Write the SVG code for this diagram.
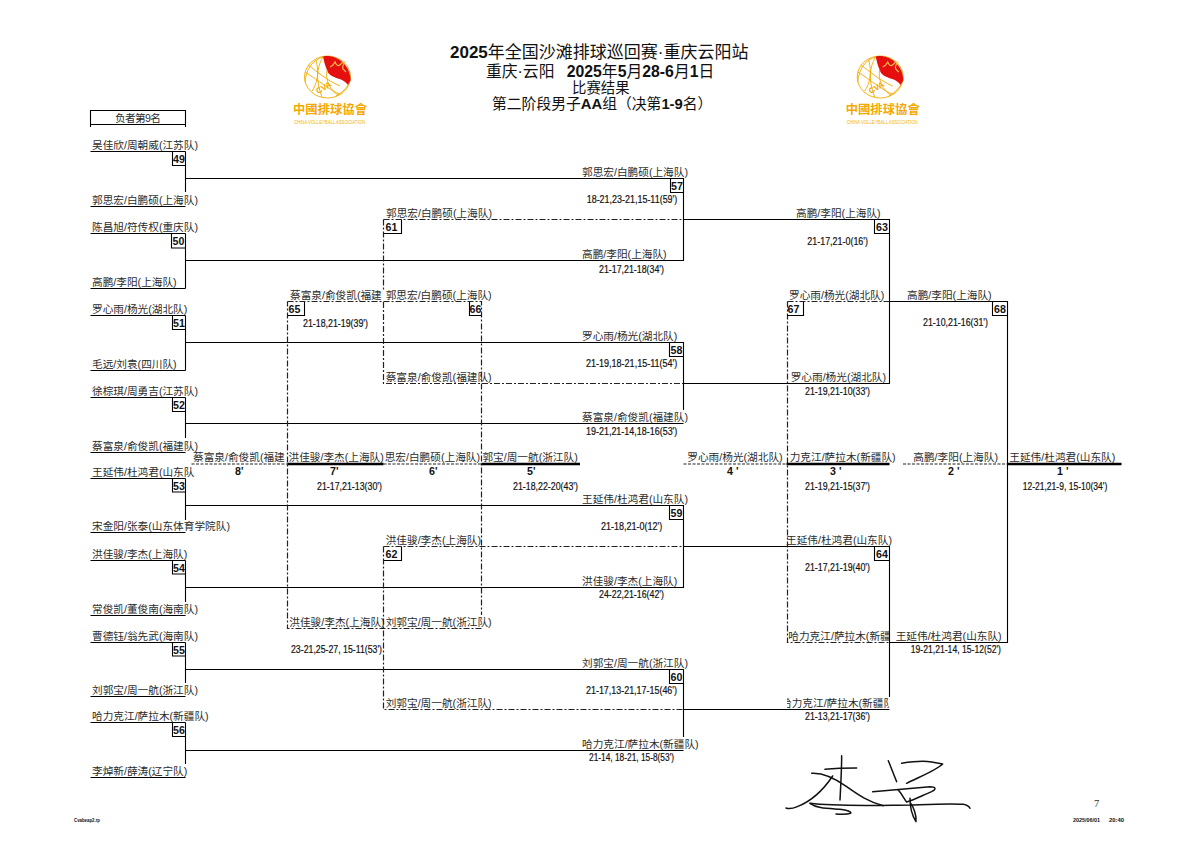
<svg xmlns="http://www.w3.org/2000/svg" xmlns:xlink="http://www.w3.org/1999/xlink" width="1200" height="843" viewBox="0 0 1200 843">
<style>
text{font-family:"Liberation Sans","Noto Sans CJK SC",sans-serif}
.l{font-size:10.67px;fill:#2b2b2b}
.s,.r,.n{font-size:10.67px;fill:#111;font-family:"Liberation Sans Narrow","Liberation Sans",sans-serif}
.s{stroke:#111;stroke-width:.2}
.n{font-weight:bold;text-anchor:middle}
.r{font-weight:bold}
.t{fill:#111;text-anchor:start}
.t tspan.b{font-weight:bold}
.sol{fill:none;stroke:#000;stroke-width:1.1}
.dd{fill:none;stroke:#222;stroke-width:1.2;stroke-dasharray:6 2 2 2}
.ds{fill:none;stroke:#222;stroke-width:1.2;stroke-dasharray:3 1.5}
.thk{fill:none;stroke:#000;stroke-width:2.4}
.box{fill:none;stroke:#000;stroke-width:1.1}
.g{fill:none;stroke:#f2a900;stroke-width:.9}
</style>
<defs>
<clipPath id="c64a"><rect x="787" y="625" width="102" height="20"/></clipPath>
<clipPath id="c64b"><rect x="787" y="692" width="102" height="20"/></clipPath>
<g id="logo">
<ellipse class="g" cx="327.500" cy="77" rx="23" ry="21"/>
<path d="M323 56.500C336 54 350 64 350.700 80L348 85C342 76 330 80 327 70C325 66 324 61 323 56.500Z" fill="#e60f0f"/>
<path d="M330 67q3-1 5-5q2 5 5 3q2-3 5-3q-3 4-2 7l3 3" fill="none" stroke="#f6c04a" stroke-width="1.2"/>
<path class="g" d="M323 57C312 60 306 70 305 82M323 57C316 68 316 82 322 97M327 70C325 80 330 90 338 95M305 72C318 80 332 92 340 94M308 65C318 72 326 80 340 86M316 60C320 75 316 85 312 91M348 85C345 90 340 94 336 96"/>
<text x="325" y="90" transform="rotate(-30 325 90)" font-size="8" fill="#f2a900" font-weight="bold" text-anchor="middle">CVA</text>
<text x="293" y="113.500" font-size="12.300" fill="#f5a800" font-weight="bold" textLength="74" style="font-family:'Noto Sans CJK TC',sans-serif">中國排球協會</text>
<text x="294" y="123.500" font-size="5.500" fill="#f5b400" textLength="71" lengthAdjust="spacingAndGlyphs">CHINA VOLLEYBALL ASSOCIATION</text>
</g>
</defs>
<rect width="1200" height="843" fill="#fff"/>

<g id="logo-left"><use xlink:href="#logo" href="#logo"/></g>
<g id="logo-right"><use xlink:href="#logo" href="#logo" x="552.700"/></g>

<g id="title">
<text class="t" x="450" y="58.300" font-size="17"><tspan class="b">2025</tspan>年全国沙滩排球巡回赛·重庆云阳站</text>
<text class="t" x="486" y="76.500" font-size="15.800">重庆·云阳<tspan class="b" x="566.700">2025</tspan>年<tspan class="b">5</tspan>月<tspan class="b">28-6</tspan>月<tspan class="b">1</tspan>日</text>
<text class="t" x="572" y="92.500" font-size="14.400">比赛结果</text>
<text class="t" x="492" y="108.500" font-size="14.800">第二阶段男子<tspan class="b">AA</tspan>组（决第<tspan class="b">1-9</tspan>名）</text>
</g>

<g id="loser-header">
<path class="sol" d="M90.500 127V110.500H185.500V127M90.500 124.500H185.500"/>
<text class="l" x="115" y="121.500" textLength="46">负者第9名</text>
</g>

<g id="connectors">
<path class="sol" d="M90.500 151.500H185.500M90.500 206.500H185.500M90.500 233.500H185.500M90.500 288.500H185.500M90.500 315.500H185.500M90.500 370.500H185.500M90.500 397.500H185.500M90.500 452.500H185.500M90.500 478.500H185.500M90.500 532.500H185.500M90.500 560.500H185.500M90.500 615.500H185.500M90.500 642.500H185.500M90.500 696.500H185.500M90.500 722.500H185.500M90.500 777.500H185.500"/>
<path class="sol" d="M185.500 151.500V192M185.500 233.500V288.500M185.500 315.500V370.500M185.500 397.500V438M185.500 478.500V520M185.500 560.500V602M185.500 642.500V683M185.500 722.500V764"/>
<path class="sol" d="M185.500 178.500H683.500V260.500H185.500M185.500 342.500H683.500V410M185.500 423.500H683.500M185.500 505.500H683.500V587.500H185.500M185.500 669.500H683.500V737M185.500 750.500H683.500"/>
<path class="sol" d="M683.500 219.500H889.500V383.500H683.500M683.500 546.500H889.500V697M683.500 709.500H889.500M889.500 301.500H1007.500V642.500H889.500"/>
<path class="dd" d="M383.500 219.500H683.500M383.500 219.500V290M383.500 302V383.500H683.500M383.500 546.500H683.500M383.500 546.500V709.500H683.500"/>
<path class="dd" d="M287.500 301.500H481.500V615M481.500 628.500H287.500V301.500M787.500 301.500H889.500M787.500 301.500V642.500H889.500"/>
<path class="ds" d="M191.500 464H288M383.500 464H481.500M683.500 464H787.500M903 464H1007.500"/>
<path class="thk" d="M287.500 464H383.500M481.500 464H580M786.500 464H889.500M1007.500 464H1121.500"/>
</g>

<g id="match-49"><path class="box" d="M172.500 151.500V165.500H185.500"/><text class="n" x="179" y="163">49</text>
<text class="l" x="92" y="149">吴佳欣/周朝威(江苏队)</text><text class="l" x="92" y="204">郭思宏/白鹏硕(上海队)</text></g>
<g id="match-50"><path class="box" d="M171.500 233.500V248H185.500"/><text class="n" x="178.500" y="245">50</text>
<text class="l" x="92" y="231">陈昌旭/符传权(重庆队)</text><text class="l" x="92" y="286">高鹏/李阳(上海队)</text></g>
<g id="match-51"><path class="box" d="M172.500 315.500V329.500H185.500"/><text class="n" x="179" y="327">51</text>
<text class="l" x="92" y="313">罗心雨/杨光(湖北队)</text><text class="l" x="92" y="368">毛远/刘袁(四川队)</text></g>
<g id="match-52"><path class="box" d="M172.500 397.500V411.500H185.500"/><text class="n" x="179" y="409">52</text>
<text class="l" x="92" y="395">徐棕琪/周勇吉(江苏队)</text><text class="l" x="92" y="450">蔡富泉/俞俊凯(福建队)</text></g>
<g id="match-53"><path class="box" d="M172.500 478.500V492H185.500"/><text class="n" x="179" y="490">53</text>
<text class="l" x="92" y="476">王延伟/杜鸿君(山东队</text><text class="l" x="92" y="530">宋金阳/张泰(山东体育学院队)</text></g>
<g id="match-54"><path class="box" d="M172.500 560.500V574H185.500"/><text class="n" x="179" y="572">54</text>
<text class="l" x="92" y="558">洪佳骏/李杰(上海队)</text><text class="l" x="92" y="613">常俊凯/董俊南(海南队)</text></g>
<g id="match-55"><path class="box" d="M172.500 642.500V656H185.500"/><text class="n" x="179" y="654">55</text>
<text class="l" x="92" y="640">曹德钰/翁先武(海南队)</text><text class="l" x="92" y="694">刘郭宝/周一航(浙江队)</text></g>
<g id="match-56"><path class="box" d="M172.500 722.500V736.500H185.500"/><text class="n" x="179" y="734">56</text>
<text class="l" x="92" y="720">哈力克江/萨拉木(新疆队)</text><text class="l" x="92" y="775">李焯新/薛涛(辽宁队)</text></g>

<g id="match-57"><path class="box" d="M670.500 178.500V192.500H683.500"/><text class="n" x="677" y="190">57</text>
<text class="l" x="582" y="176">郭思宏/白鹏硕(上海队)</text><text class="s" x="586.700" y="203" textLength="90.600" lengthAdjust="spacingAndGlyphs">18-21,23-21,15-11(59')</text>
<text class="l" x="582" y="258">高鹏/李阳(上海队)</text><text class="s" x="599" y="272.500" textLength="65" lengthAdjust="spacingAndGlyphs">21-17,21-18(34')</text></g>
<g id="match-58"><path class="box" d="M669.500 342.500V356.500H683.500"/><text class="n" x="676.500" y="354">58</text>
<text class="l" x="582" y="340">罗心雨/杨光(湖北队)</text><text class="s" x="586" y="367" textLength="91.300" lengthAdjust="spacingAndGlyphs">21-19,18-21,15-11(54')</text>
<text class="l" x="582" y="421">蔡富泉/俞俊凯(福建队)</text><text class="s" x="586" y="434.500" textLength="91.300" lengthAdjust="spacingAndGlyphs">19-21,21-14,18-16(53')</text></g>
<g id="match-59"><path class="box" d="M669.500 505.500V519.500H683.500"/><text class="n" x="676.500" y="517">59</text>
<text class="l" x="582" y="503">王延伟/杜鸿君(山东队)</text><text class="s" x="601" y="530" textLength="61.300" lengthAdjust="spacingAndGlyphs">21-18,21-0(12')</text>
<text class="l" x="582" y="585">洪佳骏/李杰(上海队)</text><text class="s" x="599" y="598" textLength="65" lengthAdjust="spacingAndGlyphs">24-22,21-16(42')</text></g>
<g id="match-60"><path class="box" d="M669.500 669.500V683.500H683.500"/><text class="n" x="676.500" y="681">60</text>
<text class="l" x="582" y="667">刘郭宝/周一航(浙江队)</text><text class="s" x="586" y="694" textLength="91" lengthAdjust="spacingAndGlyphs">21-17,13-21,17-15(46')</text>
<text class="l" x="582" y="748">哈力克江/萨拉木(新疆队)</text><text class="s" x="589" y="761" textLength="85" lengthAdjust="spacingAndGlyphs">21-14, 18-21, 15-8(53')</text></g>

<g id="match-61"><path class="box" d="M401.500 219.500V233.500H384"/><text class="n" x="391.500" y="231">61</text>
<text class="l" x="386" y="217">郭思宏/白鹏硕(上海队)</text></g>
<g id="match-62"><path class="box" d="M401.500 546.500V560.500H384"/><text class="n" x="391.500" y="558">62</text>
<text class="l" x="385.700" y="544">洪佳骏/李杰(上海队)</text><text class="l" x="385.700" y="707">刘郭宝/周一航(浙江队)</text></g>
<g id="match-63"><path class="box" d="M874.500 219.500V233.500H889.500"/><text class="n" x="882" y="231">63</text>
<text class="l" x="796" y="217">高鹏/李阳(上海队)</text><text class="s" x="807.300" y="244.500" textLength="60.700" lengthAdjust="spacingAndGlyphs">21-17,21-0(16')</text></g>
<g id="match-64"><path class="box" d="M874.500 546.500V560.500H889.500"/><text class="n" x="882" y="558">64</text>
<text class="l" x="786" y="544">王延伟/杜鸿君(山东队)</text><text class="s" x="805" y="571" textLength="65" lengthAdjust="spacingAndGlyphs">21-17,21-19(40')</text>
<text class="s" x="805" y="720" textLength="65" lengthAdjust="spacingAndGlyphs">21-13,21-17(36')</text>
<text class="l" x="781" y="707" clip-path="url(#c64b)">哈力克江/萨拉木(新疆队)</text>
<text class="l" x="788.300" y="640" clip-path="url(#c64a)">哈力克江/萨拉木(新疆队)</text></g>
<g id="match-65"><path class="box" d="M304.500 302V315.500H288"/><text class="n" x="294.500" y="313">65</text>
<text class="l" x="290" y="299">蔡富泉/俞俊凯(福建</text><text class="s" x="303" y="326.500" textLength="65" lengthAdjust="spacingAndGlyphs">21-18,21-19(39')</text>
<text class="l" x="289.300" y="626">洪佳骏/李杰(上海队)</text><text class="s" x="291" y="653" textLength="91" lengthAdjust="spacingAndGlyphs">23-21,25-27, 15-11(53')</text></g>
<g id="match-66"><path class="box" d="M469.500 302V315.500H481.500"/><text class="n" x="475.500" y="313">66</text>
<text class="l" x="385.700" y="299">郭思宏/白鹏硕(上海队)</text>
<text class="l" x="385.700" y="381">蔡富泉/俞俊凯(福建队)</text>
<text class="l" x="385.700" y="626">刘郭宝/周一航(浙江队)</text></g>
<g id="match-67"><path class="box" d="M803.500 302V315.500H787.500"/><text class="n" x="793.500" y="313">67</text>
<text class="l" x="789" y="299">罗心雨/杨光(湖北队)</text><text class="l" x="790.700" y="381">罗心雨/杨光(湖北队)</text><text class="s" x="805" y="394.500" textLength="65" lengthAdjust="spacingAndGlyphs">21-19,21-10(33')</text></g>
<g id="match-68"><path class="box" d="M992.500 301.500V315.500H1007.500"/><text class="n" x="1000" y="313">68</text>
<text class="l" x="907" y="299">高鹏/李阳(上海队)</text><text class="s" x="923" y="326" textLength="65" lengthAdjust="spacingAndGlyphs">21-10,21-16(31')</text>
<text class="l" x="895.700" y="640">王延伟/杜鸿君(山东队)</text><text class="s" x="910.700" y="653" textLength="90.300" lengthAdjust="spacingAndGlyphs">19-21,21-14, 15-12(52')</text></g>

<g id="rank-8"><text class="l" x="193" y="461">蔡富泉/俞俊凯(福建</text><text class="r" x="235" y="475">8'</text></g>
<g id="rank-7"><text class="l" x="288.500" y="461">洪佳骏/李杰(上海队)</text><text class="r" x="330" y="475">7'</text><text class="s" x="317" y="489.500" textLength="65" lengthAdjust="spacingAndGlyphs">21-17,21-13(30')</text></g>
<g id="rank-6"><text class="l" x="384.700" y="461">思宏/白鹏硕(上海队)</text><text class="r" x="429" y="475">6'</text></g>
<g id="rank-5"><text class="l" x="482.400" y="461">郭宝/周一航(浙江队)</text><text class="r" x="527" y="475">5'</text><text class="s" x="513" y="489.500" textLength="65" lengthAdjust="spacingAndGlyphs">21-18,22-20(43')</text></g>
<g id="rank-4"><text class="l" x="687.300" y="461">罗心雨/杨光(湖北队)</text><text class="r" x="727" y="475">4 '</text></g>
<g id="rank-3"><text class="l" x="789.700" y="461">力克江/萨拉木(新疆队)</text><text class="r" x="830" y="475">3 '</text><text class="s" x="805" y="489.500" textLength="65" lengthAdjust="spacingAndGlyphs">21-19,21-15(37')</text></g>
<g id="rank-2"><text class="l" x="913.300" y="461">高鹏/李阳(上海队)</text><text class="r" x="948" y="475">2 '</text></g>
<g id="rank-1"><text class="l" x="1009.300" y="461">王延伟/杜鸿君(山东队)</text><text class="r" x="1057" y="475">1 '</text><text class="s" x="1022.700" y="489.500" textLength="84.600" lengthAdjust="spacingAndGlyphs">12-21,21-9, 15-10(34')</text></g>

<g id="signature" transform="translate(760 740) scale(.3333)" fill="none" stroke="#111" stroke-width="4.500" stroke-linecap="round" stroke-linejoin="round">
<path d="M245 47C245 90 242 140 240 180M195 88C225 85 260 84 290 84"/>
<path d="M218 108C190 150 150 185 112 200C100 205 88 208 78 204"/>
<path d="M155 100C190 98 225 115 260 140C295 165 325 185 370 197"/>
<path d="M150 190C230 200 350 196 450 195C510 193 570 190 610 193C620 195 628 200 630 205"/>
<path d="M150 190C170 205 200 205 240 208C262 210 275 215 272 220C255 225 240 222 228 222"/>
<path d="M385 62L410 125"/>
<path d="M425 70C450 66 490 62 515 66L548 72C530 90 480 110 440 130"/>
<path d="M338 155C390 150 450 145 510 140C528 140 530 148 515 155C490 165 465 178 440 186C432 178 428 165 415 150"/>
<path d="M450 175C450 200 455 225 468 245C470 225 460 200 452 190"/>
</g>

<g id="footer">
<text x="1096.700" y="807" font-size="10.500" fill="#333" text-anchor="middle" style="font-family:'Liberation Serif',serif">7</text>
<text x="74" y="821.500" font-size="5" font-weight="bold" fill="#111" textLength="26" lengthAdjust="spacingAndGlyphs">Cvabeap2.rp</text>
<text x="1073" y="821.500" font-size="5" font-weight="bold" fill="#111" textLength="27" lengthAdjust="spacingAndGlyphs">2025/06/01</text>
<text x="1109" y="821.500" font-size="5" font-weight="bold" fill="#111" textLength="15" lengthAdjust="spacingAndGlyphs">20:40</text>
</g>
</svg>
